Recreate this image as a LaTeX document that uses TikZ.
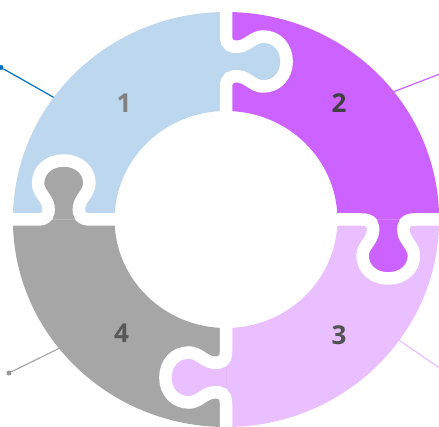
\documentclass[tikz,border=0pt]{standalone}
\usepackage{fontspec}
\setmainfont{Open Sans}
\definecolor{pieceblue}{RGB}{189,215,238}
\definecolor{piecepurple}{RGB}{204,98,255}
\definecolor{piecelilac}{RGB}{233,191,255}
\definecolor{piecegray}{RGB}{166,166,166}
\definecolor{leadblue}{RGB}{0,112,192}

% one cut along the x axis, from the inner to the outer rim, tab hanging below
\newcommand{\tabshape}{(132,0) .. controls (142,0) and (144,-5) .. (143,-13)
  .. controls (142,-21) and (133,-27) .. (133,-36)
  .. controls (133,-50) and (144,-59) .. (158,-59)
  .. controls (172,-59) and (183,-50) .. (183,-36)
  .. controls (183,-27) and (174,-21) .. (173,-13)
  .. controls (172,-5) and (174,0) .. (184,0)}

\begin{document}
\begin{tikzpicture}[x=1pt, y=1pt,
    number/.style={font=\fontsize{26}{30}\selectfont\bfseries},
    dot/.style={circle, fill, inner sep=0pt, minimum size=5pt},
    gap/.style={white, line width=12.5pt}]
\useasboundingbox (-226,-207.5) rectangle (213,219.5);
\clip (-226,-207.5) rectangle (213,219.5);

% Leader lines
\coordinate (b1) at (-165,118);
\node[dot, leadblue] (d1) at (-225,152) {};
\coordinate (b2) at (163,126);
\coordinate (e2) at (228,151);
\coordinate (b3) at (170,-118.5);
\coordinate (e3) at (228,-158.5);
\coordinate (b4) at (-163,-127);
\node[dot, piecegray!90!black] (d4) at (-217,-153.5) {};
\draw[leadblue, line width=1.2pt] (b1) -- (d1);
\draw[piecepurple, line width=1.2pt] (b2) -- (e2);
\draw[piecelilac, line width=1.2pt] (b3) -- (e3);
\draw[piecegray, line width=1.2pt] (b4) -- (d4);

\begin{scope}[xscale=1.027]
  % Quadrants
  \fill[pieceblue] (90:207.5) arc[start angle=90, end angle=180, radius=207.5]
    -- (180:108.5) arc[start angle=180, end angle=90, radius=108.5] -- cycle;
  \fill[piecepurple] (0:207.5) arc[start angle=0, end angle=90, radius=207.5]
    -- (90:108.5) arc[start angle=90, end angle=0, radius=108.5] -- cycle;
  \fill[piecelilac] (-90:207.5) arc[start angle=-90, end angle=0, radius=207.5]
    -- (0:108.5) arc[start angle=0, end angle=-90, radius=108.5] -- cycle;
  \fill[piecegray] (180:207.5) arc[start angle=180, end angle=270, radius=207.5]
    -- (270:108.5) arc[start angle=270, end angle=180, radius=108.5] -- cycle;

  % Tabs and white gaps
  \foreach \ang/\col in {90/pieceblue, 0/piecepurple, -90/piecelilac, 180/piecegray}{
    \begin{scope}[rotate=\ang]
      \fill[\col] \tabshape -- cycle;
      \draw[gap] (100,0) -- \tabshape -- (216,0);
    \end{scope}
  }
\end{scope}

% Numbers
\node[number, text=black!50] (n1) at (-102,116.5) {1};
\node[number, text=black!75] (n2) at (113,116.5) {2};
\node[number, text=black!68] (n3) at (113,-115.5) {3};
\node[number, text=black!65] (n4) at (-104.5,-113.5) {4};
\end{tikzpicture}
\end{document}
